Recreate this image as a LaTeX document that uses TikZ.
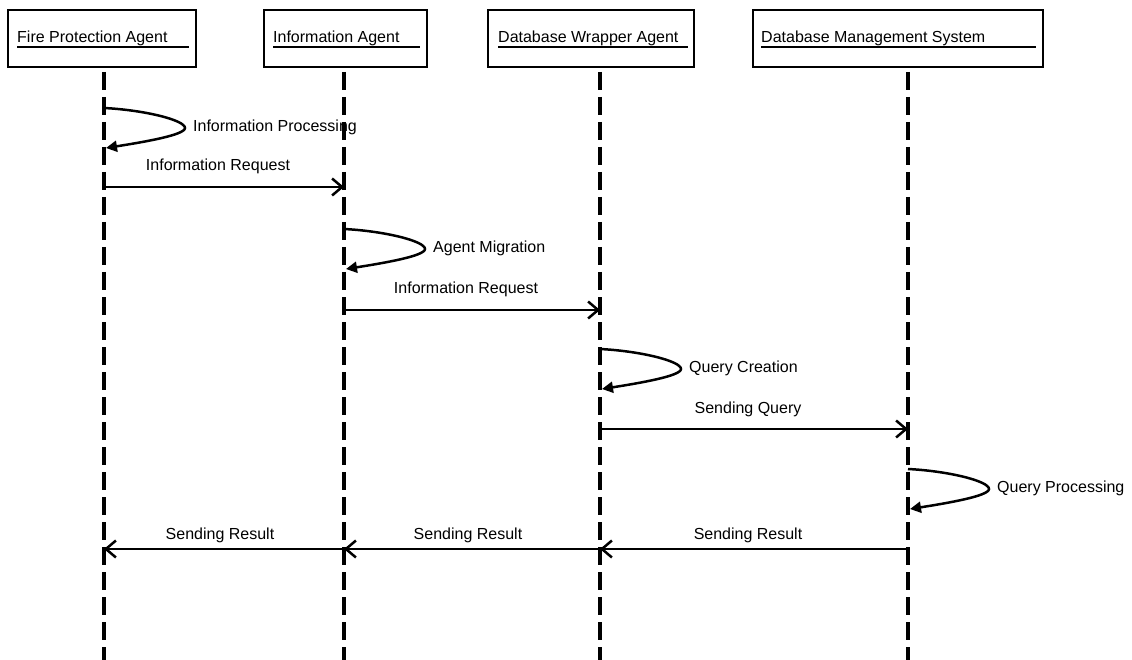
\documentclass[tikz,border=0pt]{standalone}
\usepackage{fontspec}
\setmainfont{Liberation Sans}
\usetikzlibrary{arrows.meta,calc}

\tikzset{
  actor/.style={draw, line width=2pt, minimum height=57pt, inner sep=0pt},
  actorname/.style={anchor=base west, inner sep=0pt},
  underbar/.style={line width=1.6pt},
  lifeline/.style={line width=4pt, dash pattern=on 18pt off 7pt},
  msg/.style={line width=2.5pt, -{Straight Barb[length=10pt,width=17pt,line width=2.5pt]}},
  msglabel/.style={anchor=base, inner sep=0pt},
  selfloop/.style={line width=2.5pt, -{Triangle[length=11pt,width=11pt]}},
  looplabel/.style={anchor=west, inner sep=0pt},
}

\begin{document}
\begin{tikzpicture}[x=1pt, y=-1pt, font=\fontsize{16}{19}\selectfont]
\useasboundingbox (0,0) rectangle (1132,660);

% participant boxes
\node[actor, minimum width=188pt] (fpa) at (102,38.5) {};
\node[actor, minimum width=163pt] (ia)  at (345.5,38.5) {};
\node[actor, minimum width=206pt] (dwa) at (591,38.5) {};
\node[actor, minimum width=290pt] (dms) at (898,38.5) {};

% participant names, underlined to the box edge
\node[actorname] (fpat) at ($(fpa.west)+(10,4.5)$) {Fire Protection Agent};
\node[actorname] (iat)  at ($(ia.west)+(10,4.5)$)  {Information Agent};
\node[actorname] (dwat) at ($(dwa.west)+(11,4.5)$) {Database Wrapper Agent};
\node[actorname] (dmst) at ($(dms.west)+(9,4.5)$)  {Database Management System};
\draw[underbar] ($(fpa.west)+(10,8.5)$) -- ($(fpa.east)+(-8,8.5)$);
\draw[underbar] ($(ia.west)+(10,8.5)$)  -- ($(ia.east)+(-8,8.5)$);
\draw[underbar] ($(dwa.west)+(11,8.5)$) -- ($(dwa.east)+(-7,8.5)$);
\draw[underbar] ($(dms.west)+(9,8.5)$)  -- ($(dms.east)+(-8,8.5)$);

% lifelines
\coordinate (l1) at (104,72);  \coordinate (l1b) at (104,660);
\coordinate (l2) at (344,72);  \coordinate (l2b) at (344,660);
\coordinate (l3) at (600,72);  \coordinate (l3b) at (600,660);
\coordinate (l4) at (908,72);  \coordinate (l4b) at (908,660);
\foreach \a/\b in {l1/l1b, l2/l2b, l3/l3b, l4/l4b}
  \draw[lifeline] (\a) -- (\b);

% self messages
\foreach \l/\t/\name/\txt in {l1/108/sp/Information Processing,
                               l2/229/am/Agent Migration,
                               l3/349/qc/Query Creation,
                               l4/469/qp/Query Processing} {
  \coordinate (\name s) at ($(\l |- 0,\t)$);
  \coordinate (\name t) at ($(\name s)+(81,20)$);
  \coordinate (\name e) at ($(\name s)+(2,40)$);
  \draw[selfloop] (\name s) .. controls +(40,2) and +(0,-8) .. (\name t)
                            .. controls +(0,7) and +(38,-6) .. (\name e);
  \node[looplabel] (\name l) at ($(\name t)+(8,-1)$) {\txt};
}

% messages between participants
\draw[msg] (l1 |- 0,187) -- (l2 |- 0,187)
  node[msglabel, midway, xshift=-6pt, yshift=16pt] (m1) {Information Request};
\draw[msg] (l2 |- 0,310) -- (l3 |- 0,310)
  node[msglabel, midway, xshift=-6pt, yshift=16pt] (m2) {Information Request};
\draw[msg] (l3 |- 0,429) -- (l4 |- 0,429)
  node[msglabel, midway, xshift=-6pt, yshift=16pt] (m3) {Sending Query};
\draw[msg] (l4 |- 0,549) -- (l3 |- 0,549)
  node[msglabel, midway, xshift=-6pt, yshift=10pt] (r1) {Sending Result};
\draw[msg] (l3 |- 0,549) -- (l2 |- 0,549)
  node[msglabel, midway, xshift=-4pt, yshift=10pt] (r2) {Sending Result};
\draw[msg] (l2 |- 0,549) -- (l1 |- 0,549)
  node[msglabel, midway, xshift=-4pt, yshift=10pt] (r3) {Sending Result};
\end{tikzpicture}
\end{document}
